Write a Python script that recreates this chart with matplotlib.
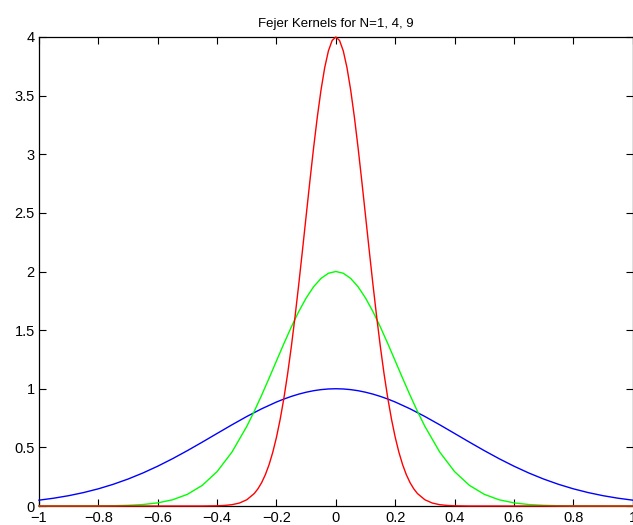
import numpy as np
import matplotlib
matplotlib.use("Agg")
import matplotlib.pyplot as plt

plt.rcParams['font.family'] = ['Liberation Sans', 'DejaVu Sans']

# values for x >= 0 (curves are symmetric about x = 0)
x_blue = [0.0, 0.025, 0.05, 0.075, 0.10, 0.125, 0.15, 0.175, 0.20, 0.25,
          0.30, 0.35, 0.40, 0.45, 0.50, 0.55, 0.60, 0.65, 0.70, 0.75, 0.80,
          0.85, 0.90, 0.95, 1.00]
blue_half = [1.000, 0.9981, 0.9925, 0.9833, 0.9704, 0.9542, 0.9347, 0.9122,
             0.8869, 0.8290, 0.7634, 0.6925, 0.6188, 0.5447, 0.4724, 0.4035,
             0.3396, 0.2815, 0.2299, 0.1850, 0.1466, 0.1145, 0.0880, 0.0667,
             0.0498]

x_green = [0.0, 0.025, 0.05, 0.075, 0.10, 0.125, 0.15, 0.175, 0.20, 0.225,
           0.25, 0.275, 0.30, 0.35, 0.40, 0.45, 0.50, 0.55, 0.60, 0.65, 0.70,
           0.75, 0.80, 0.85, 0.90, 0.95, 1.00]
green_half = [2.000, 1.9851, 1.9409, 1.8695, 1.7737, 1.6581, 1.5268, 1.3849,
              1.2377, 1.0895, 0.9447, 0.8070, 0.6791, 0.4598, 0.2932, 0.1760,
              0.0996, 0.0530, 0.0266, 0.0126, 0.0056, 0.0023, 0.0009, 0.0003,
              0.0001, 0.0, 0.0]

x_red = [0.0, 0.0125, 0.025, 0.0375, 0.05, 0.0625, 0.075, 0.0875, 0.10,
         0.1125, 0.125, 0.1375, 0.15, 0.1625, 0.175, 0.1875, 0.20, 0.2125,
         0.225, 0.2375, 0.25, 0.2625, 0.275, 0.30, 0.325, 0.35, 0.375, 0.40,
         0.45, 0.50, 0.60, 0.70, 0.80, 0.90, 1.00]
red_half = [4.000, 3.9701, 3.8818, 3.7389, 3.5475, 3.3161, 3.0536, 2.7698,
            2.4752, 2.1790, 1.8895, 1.6141, 1.3583, 1.1261, 0.9196, 0.7399,
            0.5864, 0.4579, 0.3521, 0.2668, 0.1991, 0.1465, 0.1060, 0.0532,
            0.0251, 0.0112, 0.0047, 0.0018, 0.0, 0.0, 0.0, 0.0, 0.0, 0.0, 0.0]

xticks = [-1, -0.8, -0.6, -0.4, -0.2, 0, 0.2, 0.4, 0.6, 0.8, 1]
xtick_labels = ['\u22121', '\u22120.8', '\u22120.6', '\u22120.4', '\u22120.2',
                '0', '0.2', '0.4', '0.6', '0.8', '1']
yticks = [0, 0.5, 1, 1.5, 2, 2.5, 3, 3.5, 4]
ytick_labels = ['0', '0.5', '1', '1.5', '2', '2.5', '3', '3.5', '4']


def mirror(xs, ys):
    xs = np.asarray(xs)
    ys = np.asarray(ys)
    return (np.concatenate([-xs[:0:-1], xs]),
            np.concatenate([ys[:0:-1], ys]))


fig = plt.figure(figsize=(6.33, 5.25), dpi=100)
ax = fig.add_axes([39 / 633, 1 - 506 / 525, 594 / 633 - 0.0005, (506 - 37) / 525])

for xs, ys, c in [(x_blue, blue_half, '#0000ff'),
                  (x_green, green_half, '#00ff00'),
                  (x_red, red_half, '#ff0000')]:
    mx, my = mirror(xs, ys)
    ax.plot(mx, my, color=c, linewidth=1.0, clip_on=False, zorder=3)

ax.set_xlim(-1, 1)
ax.set_ylim(0, 4)
ax.set_xticks(xticks)
ax.set_xticklabels(xtick_labels)
ax.set_yticks(yticks)
ax.set_yticklabels(ytick_labels)
ax.tick_params(direction='in', length=5, width=0.8, top=True, right=True,
               labelsize=10.5, colors='black')
ax.tick_params(axis='x', pad=3.5)
ax.tick_params(axis='y', pad=3)
for s in ax.spines.values():
    s.set_linewidth(0.9)

ax.set_title('Fejer Kernels for N=1, 4, 9', fontsize=9.5, pad=7)

fig.savefig('out.png', dpi=100)
